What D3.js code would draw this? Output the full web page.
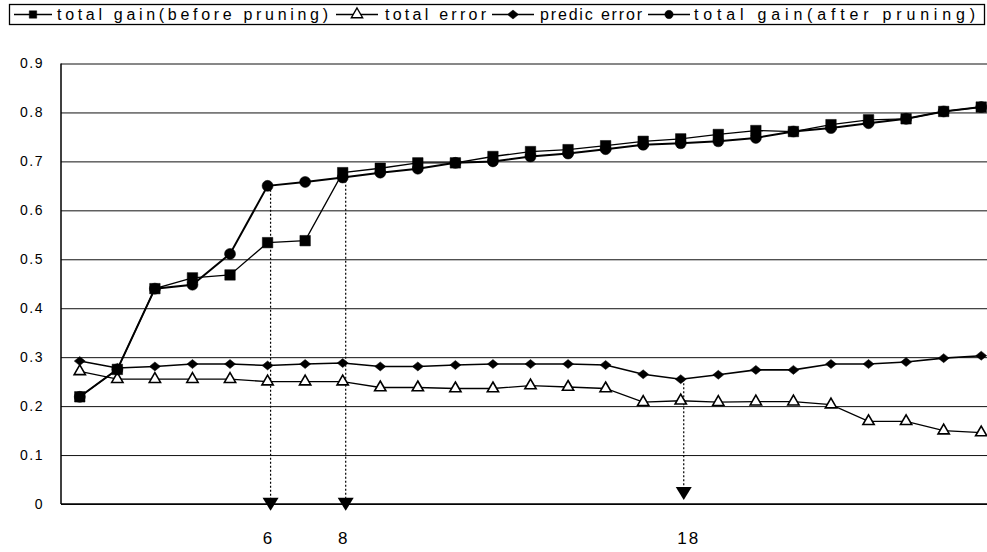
<!DOCTYPE html>
<html>
<head>
<meta charset="utf-8">
<script src="https://cdn.jsdelivr.net/npm/d3@7"></script>
<style>
  body { margin: 0; background: #fff; }
  text { font-family: "Liberation Sans", Arial, sans-serif; fill: #000; }
</style>
</head>
<body>
<div id="chart"></div>
<script>
var width = 987,
  height = 552;

// data
var steps = d3.range(1, 26);
var gainBefore = [0.219,0.275,0.44,0.462,0.468,0.534,0.538,0.677,0.686,0.697,0.697,0.71,0.72,0.724,0.732,0.741,0.746,0.755,0.763,0.761,0.775,0.785,0.787,0.802,0.811];
var gainAfter = [0.219,0.275,0.44,0.448,0.511,0.65,0.658,0.667,0.677,0.685,0.697,0.70,0.71,0.716,0.725,0.734,0.737,0.741,0.748,0.761,0.768,0.778,0.787,0.802,0.811];
var totalError = [0.271,0.255,0.255,0.255,0.255,0.25,0.25,0.25,0.238,0.238,0.236,0.236,0.242,0.239,0.236,0.208,0.211,0.208,0.209,0.209,0.203,0.169,0.169,0.15,0.146];
var predicError = [0.292,0.278,0.281,0.286,0.286,0.283,0.286,0.288,0.281,0.281,0.284,0.286,0.286,0.286,0.284,0.265,0.255,0.264,0.274,0.274,0.286,0.286,0.29,0.298,0.303];
var yTicks = [0, 0.1, 0.2, 0.3, 0.4, 0.5, 0.6, 0.7, 0.8, 0.9];
var yTickLabels = ["0", "0.1", "0.2", "0.3", "0.4", "0.5", "0.6", "0.7", "0.8", "0.9"];

// the dotted arrows: which step, which series they start from, where they end, label
var arrowSteps = [6, 8, 17];
var arrowFrom = [gainAfter, gainBefore, predicError];
var arrowEnd = [-0.014, -0.014, 0.008];
var arrowLabels = ["6", "8", "18"];

var legendNames = ["total gain(before pruning)", "total error", "predic error", "total gain(after pruning)"];

var svg = d3.select("#chart")
  .append("svg")
  .attr("width", width)
  .attr("height", height);

var x = d3.scaleLinear().domain([0.5, 25.5]).range([61, 1000]);
var y = d3.scaleLinear().domain([0, 0.9]).range([504, 63.5]);

// grid + y labels
var yAxis = d3.axisLeft(y)
  .tickValues(yTicks)
  .tickSize(-(1000 - 61))
  .tickPadding(17)
  .tickFormat(function(d, i){ return yTickLabels[i]; });

var gy = svg.append("g")
  .attr("transform", "translate(61,0)")
  .call(yAxis);
gy.select(".domain").remove();
gy.selectAll(".tick line").attr("stroke", "#111").attr("stroke-width", 1);
gy.selectAll(".tick text")
  .attr("font-size", 14)
  .attr("letter-spacing", 1.5)
  .attr("font-family", "Liberation Sans, Arial, sans-serif");

// left axis line
svg.append("line")
  .attr("x1", 61).attr("x2", 61)
  .attr("y1", y(0.9)).attr("y2", y(0))
  .attr("stroke", "#000").attr("stroke-width", 1.5);
svg.append("line")
  .attr("x1", 61).attr("x2", width)
  .attr("y1", y(0)).attr("y2", y(0))
  .attr("stroke", "#000").attr("stroke-width", 1.5);

// dotted arrows
var arrows = svg.append("g");
arrowSteps.forEach(function(s, i){
  var ax = x(s) + 3;
  var y0 = y(arrowFrom[i][s - 1]);
  var tip = y(arrowEnd[i]);
  arrows.append("line")
    .attr("x1", ax).attr("x2", ax)
    .attr("y1", y0).attr("y2", tip - 12)
    .attr("stroke", "#000")
    .attr("stroke-width", 1.2)
    .attr("stroke-dasharray", "2,2");
  arrows.append("path")
    .attr("d", "M" + (ax - 8) + "," + (tip - 13) + "L" + (ax + 8) + "," + (tip - 13) + "L" + ax + "," + tip + "Z")
    .attr("fill", "#000");
  arrows.append("text")
    .attr("x", ax + (arrowLabels[i].length > 1 ? 5 : -2))
    .attr("y", 544)
    .attr("text-anchor", "middle")
    .attr("font-size", 17)
    .attr("letter-spacing", 2)
    .text(arrowLabels[i]);
});

function lineFor(vals){
  return d3.line()
    .x(function(d, i){ return x(steps[i]); })
    .y(function(d){ return y(d); })(vals);
}

var series = [
  { vals: totalError, w: 1.3 },
  { vals: predicError, w: 1.6 },
  { vals: gainBefore, w: 1.3 },
  { vals: gainAfter, w: 2 }
];

series.forEach(function(s){
  svg.append("path")
    .attr("d", lineFor(s.vals))
    .attr("fill", "none")
    .attr("stroke", "#000")
    .attr("stroke-width", s.w);
});

var diamond = "M-5.5,0L0,-4.5L5.5,0L0,4.5Z";
var tri = d3.symbol().type(d3.symbolTriangle).size(55)();
var sq = d3.symbol().type(d3.symbolSquare).size(110)();
var circ = d3.symbol().type(d3.symbolCircle).size(95)();

function drawMarks(vals, path, fill){
  svg.append("g")
    .selectAll("path")
    .data(vals)
    .enter()
    .append("path")
    .attr("d", path)
    .attr("transform", function(d, i){ return "translate(" + x(steps[i]) + "," + y(d) + ")"; })
    .attr("fill", fill)
    .attr("stroke", "#000")
    .attr("stroke-width", fill == "#fff" ? 1.6 : 0.5);
}

drawMarks(totalError, tri, "#fff");
drawMarks(predicError, diamond, "#000");
drawMarks(gainAfter, circ, "#000");
drawMarks(gainBefore, sq, "#000");

// legend
var legend = svg.append("g");
legend.append("rect")
  .attr("x", 9.5).attr("y", 4.5)
  .attr("width", 975).attr("height", 20)
  .attr("fill", "#fff")
  .attr("stroke", "#000")
  .attr("stroke-width", 1.3);

var legLine = [[14, 52], [336, 378], [492, 534], [648, 690]];
var legMark = [33, 357, 513, 669];
var legText = [57, 385, 540, 694];
var legLen = [271, 101, 102, 281];
var legSym = [sq, tri, diamond, circ];

legendNames.forEach(function(name, i){
  legend.append("line")
    .attr("x1", legLine[i][0]).attr("x2", legLine[i][1])
    .attr("y1", 14.5).attr("y2", 14.5)
    .attr("stroke", "#000").attr("stroke-width", 1.5);
  legend.append("path")
    .attr("d", i == 0 ? d3.symbol().type(d3.symbolSquare).size(55)() : (i == 3 ? d3.symbol().type(d3.symbolCircle).size(55)() : legSym[i]))
    .attr("transform", "translate(" + legMark[i] + ",14.5)")
    .attr("fill", i == 1 ? "#fff" : "#000")
    .attr("stroke", "#000")
    .attr("stroke-width", i == 1 ? 1.4 : 0.5);
  legend.append("text")
    .attr("x", legText[i])
    .attr("y", 20)
    .attr("font-size", 16)
    .attr("textLength", legLen[i])
    .attr("lengthAdjust", "spacing")
    .text(name);
});
</script>
</body>
</html>
